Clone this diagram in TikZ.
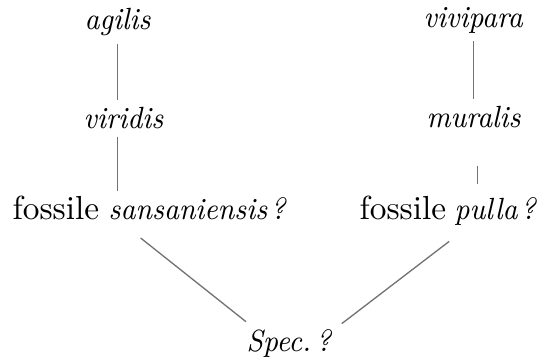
\documentclass[tikz,border=0pt]{standalone}
\usepackage{fontspec}
\usetikzlibrary{calc}
\newfontfamily\taxfont{Latin Modern Roman}[FakeStretch=0.93]

\tikzset{
  word/.style={anchor=base west, inner xsep=0pt, inner ysep=2pt},
  taxon/.style={word, font=\taxfont\fontsize{9.2}{11}\selectfont\itshape},
  link/.style={draw=black!55, line width=0.4pt},
}

\begin{document}
\begin{tikzpicture}[x=0.3pt, y=-0.3pt]
  \useasboundingbox (0,0) rectangle (542,363);
  % left branch
  \node[taxon] (agilis) at (84,30) {agilis};
  \node[taxon] (viridis) at (83,129) {viridis};
  \node[word] (fossileA) at (12,220) {fossile};
  \node[taxon] (sansaniensis) at (108,220) {sansaniensis\kern1pt?};
  % right branch
  \node[taxon] (vivipara) at (423,28) {vivipara};
  \node[taxon] (muralis) at (426,128) {muralis};
  \node[word] (fossileB) at (359,220) {fossile};
  \node[taxon] (pulla) at (454,220) {pulla\kern1pt?};
  % root
  \node[taxon] (spec) at (246,351) {Spec.\kern1.5pt?};
  %
  \draw[link] (agilis.south) -- (agilis.south |- viridis.north);
  \draw[link] (agilis.south |- viridis.south) -- (agilis.south |- sansaniensis.north);
  \draw[link] (vivipara.south) -- (vivipara.south |- muralis.north);
  \draw[link, shorten <=9pt, shorten >=2pt] ($(muralis.south)+(4,0)$) -- ($(muralis.south |- pulla.north)+(4,0)$);
  %
  \draw[link, shorten <=5pt] ($(sansaniensis.south west)!0.11!(sansaniensis.south east)$) -- (spec.north west);
  \draw[link, shorten <=4pt] ($(pulla.south west)!0.07!(pulla.south east)$) -- ($(spec.north east)+(10,2)$);
\end{tikzpicture}
\end{document}
